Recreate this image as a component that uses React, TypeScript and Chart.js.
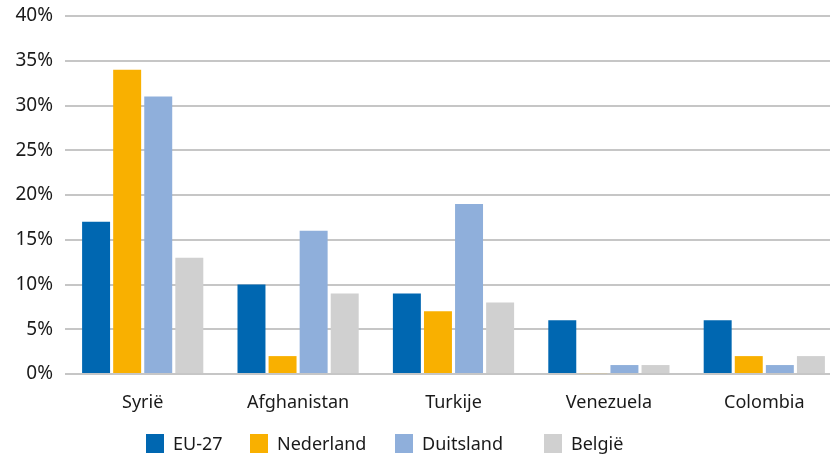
import React, { useEffect, useRef } from "react";
import { Chart, registerables } from "chart.js";

Chart.register(...registerables);

const categories = ["Syrië", "Afghanistan", "Turkije", "Venezuela", "Colombia"];
const seriesNames = ["EU-27", "Nederland", "Duitsland", "België"];
const eu27 = [17, 10, 9, 6, 6];
const nederland = [34, 2, 7, 0.1, 2];
const duitsland = [31, 16, 19, 1, 1];
const belgie = [13, 9, 8, 1, 2];
const colors = ["#0067b1", "#f9b000", "#8fafdb", "#d0d0d0"];
const yTicks = [0, 5, 10, 15, 20, 25, 30, 35, 40];

const FONT = "'Noto Sans', sans-serif";

export default function App() {
  const ref = useRef<HTMLCanvasElement | null>(null);

  useEffect(() => {
    document.documentElement.style.overflow = "hidden";
    document.body.style.overflow = "hidden";
    const canvas = ref.current;
    if (!canvas) return;
    const values = [eu27, nederland, duitsland, belgie];
    const chart = new Chart(canvas, {
      type: "bar",
      data: {
        labels: categories,
        datasets: seriesNames.map((name, i) => ({
          label: name,
          data: values[i],
          backgroundColor: colors[i],
          borderWidth: 0,
          categoryPercentage: 0.8,
          barPercentage: 0.9,
        })),
      },
      options: {
        animation: false,
        responsive: false,
        maintainAspectRatio: false,
        layout: { padding: { top: 16, right: 0, bottom: 0, left: 0 } },
        plugins: {
          legend: { display: false },
          tooltip: { enabled: false },
        },
        scales: {
          x: {
            grid: { display: false },
            border: { display: false },
            ticks: {
              color: "#1a1a1a",
              font: { family: FONT, size: 18 },
              padding: 10,
            },
            afterFit: (scale: any) => {
              scale.height = 80;
              scale.paddingLeft = 0;
              scale.paddingRight = 0;
            },
          },
          y: {
            min: 0,
            max: 40,
            afterBuildTicks: (scale: any) => {
              scale.ticks = yTicks.map((v) => ({ value: v }));
            },
            grid: { color: "#c6c6c6", lineWidth: 2, drawTicks: false },
            border: { display: false },
            ticks: {
              color: "#1a1a1a",
              font: { family: FONT, size: 19 },
              padding: 12,
              callback: (v: any) => v + "%",
            },
            afterFit: (scale: any) => {
              scale.width = 65;
              scale.paddingTop = 0;
              scale.paddingBottom = 0;
            },
          },
        },
      },
    });
    return () => chart.destroy();
  }, []);

  const legendLeft = [146, 250, 395, 544];

  return (
    <div style={{ position: "absolute", left: 0, top: 0, width: 842, height: 454 }}>
      <canvas ref={ref} width={842} height={454} style={{ display: "block" }} />
      {seriesNames.map((name, i) => (
        <div
          key={name}
          style={{
            position: "absolute",
            left: legendLeft[i],
            top: 434,
            height: 19,
            display: "flex",
            alignItems: "center",
            fontFamily: FONT,
            fontSize: 18,
            color: "#1a1a1a",
            whiteSpace: "nowrap",
          }}
        >
          <span style={{ display: "inline-block", width: 18, height: 19, background: colors[i], marginRight: 9 }} />
          <span style={{ lineHeight: "19px" }}>{name}</span>
        </div>
      ))}
    </div>
  );
}
